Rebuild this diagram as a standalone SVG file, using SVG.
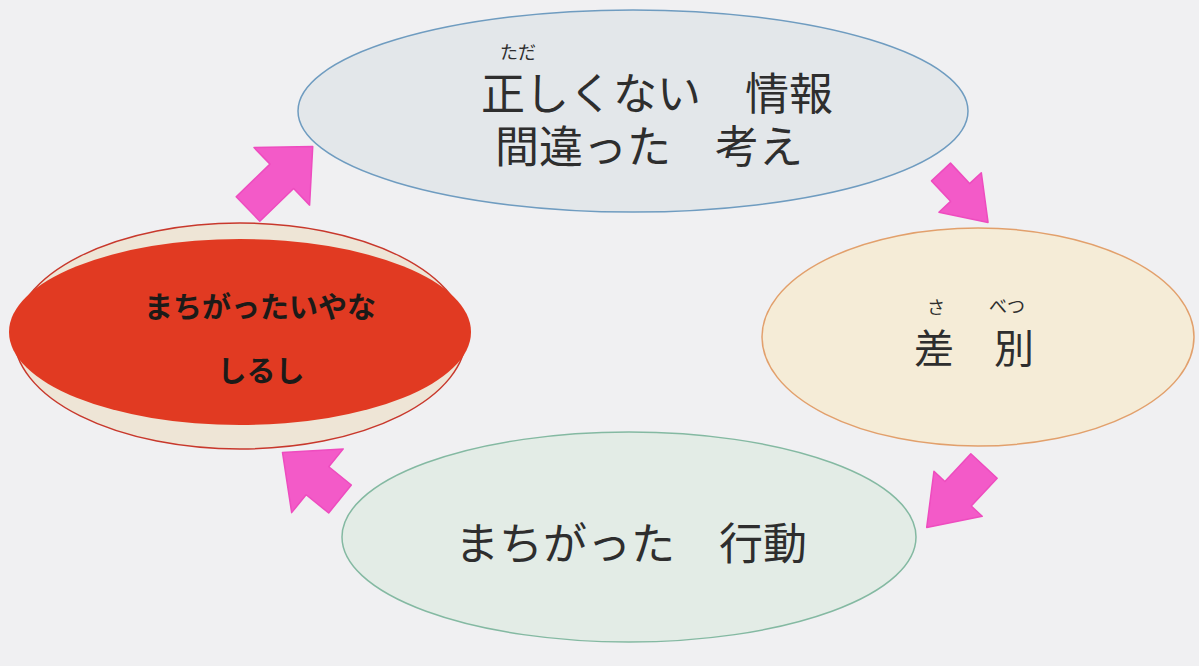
<svg xmlns="http://www.w3.org/2000/svg" width="1199" height="666" viewBox="0 0 1199 666">
<style>
.t{font-family:"Noto Sans CJK JP","Noto Sans",sans-serif;fill:#2e2e2e}
.ruby{font-size:18px}
.big{font-size:44px}
.bold{font-weight:bold;fill:#1c1a18;font-size:29px}
.arrow{fill:#f35ac8;stroke:#ee4cbf;stroke-width:1.5;stroke-linejoin:round}
</style>
<rect width="1199" height="666" fill="#f0f0f2"/>
<g id="node-info">
<ellipse cx="633" cy="111" rx="335" ry="101" fill="#e3e7ea" stroke="#6f9cc0" stroke-width="1.5"/>
<text class="t ruby" x="500" y="59">ただ</text>
<text class="t big" x="481" y="110">正しくない　情報</text>
<text class="t big" x="495" y="163">間違った　考え</text>
</g>
<g id="node-sabetsu">
<ellipse cx="978" cy="337" rx="216" ry="109" fill="#f5ecd7" stroke="#e2a06c" stroke-width="1.5"/>
<text class="t ruby" x="927" y="314">さ</text>
<text class="t ruby" x="989" y="313">べつ</text>
<text class="t" style="font-size:40px" x="914" y="363">差　別</text>
</g>
<g id="node-action">
<ellipse cx="629" cy="537" rx="287" ry="105" fill="#e3ece6" stroke="#84b9a2" stroke-width="1.5"/>
<text class="t big" x="455" y="560">まちがった　行動</text>
</g>
<g id="node-shirushi">
<ellipse cx="240" cy="336" rx="226" ry="113" fill="#eee5d6" stroke="#c8382c" stroke-width="1.5"/>
<ellipse cx="240" cy="332" rx="231" ry="93" fill="#e13a22"/>
<text class="t bold" x="260" y="318" text-anchor="middle">まちがったいやな</text>
<text class="t bold" x="261" y="382" text-anchor="middle">しるし</text>
</g>
<g id="connectors">
<polygon class="arrow" transform="translate(248,209) rotate(-44)" points="0,-17 47,-17 47,-40 90,0 47,40 47,17 0,17"/>
<polygon class="arrow" transform="translate(941,172) rotate(47)" points="0,-13 28,-13 28,-29 69,0 28,29 28,13 0,13"/>
<polygon class="arrow" transform="translate(984,466) rotate(133)" points="0,-18 38,-18 38,-33 84,0 38,33 38,18 0,18"/>
<polygon class="arrow" transform="translate(340,499) rotate(-141)" points="0,-18 29,-18 29,-41 74,0 29,41 29,18 0,18"/>
</g>
</svg>
